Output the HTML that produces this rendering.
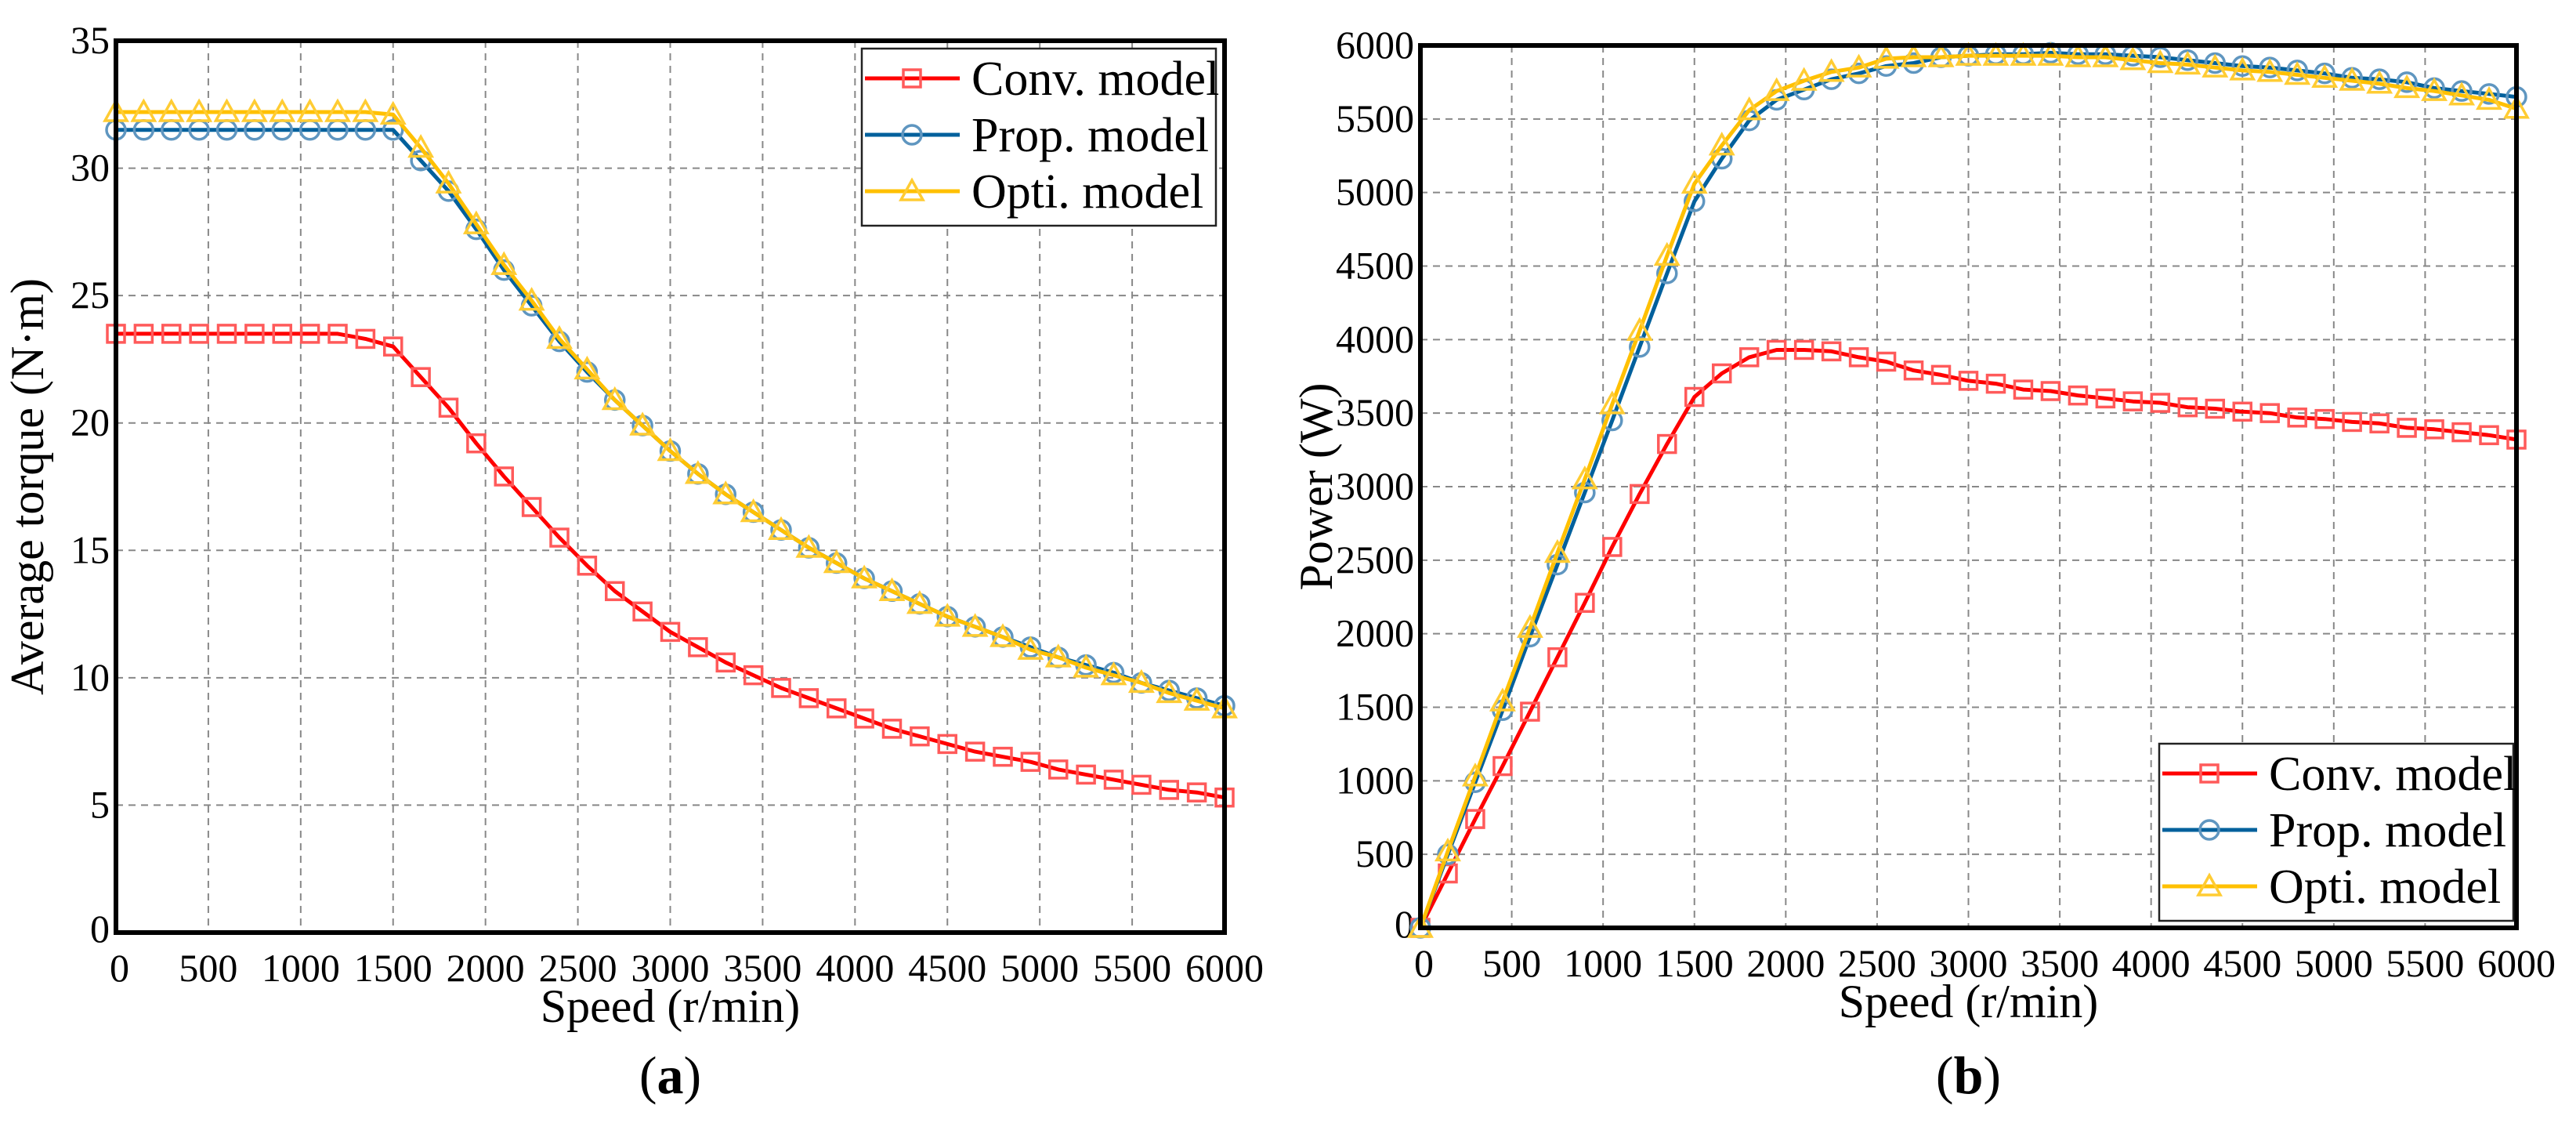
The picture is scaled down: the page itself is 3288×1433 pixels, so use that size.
<!DOCTYPE html>
<html><head><meta charset="utf-8"><style>
html,body{margin:0;padding:0;background:#fff;}
svg{display:block;}
svg text{font-family:"Liberation Serif","Times New Roman",serif;}
</style></head><body>
<svg id="root" width="3288" height="1433" viewBox="0 0 3288 1433" xmlns="http://www.w3.org/2000/svg" font-family="Liberation Serif, serif"></svg>
<script>
const speeds = [0,150,300,450,600,750,900,1050,1200,1350,1500,1650,1800,1950,2100,2250,2400,2550,2700,2850,3000,3150,3300,3450,3600,3750,3900,4050,4200,4350,4500,4650,4800,4950,5100,5250,5400,5550,5700,5850,6000];
const torqueConv = [23.5,23.5,23.5,23.5,23.5,23.5,23.5,23.5,23.5,23.3,23.0,21.8,20.6,19.2,17.9,16.7,15.5,14.4,13.4,12.6,11.8,11.2,10.6,10.1,9.6,9.2,8.8,8.4,8.0,7.7,7.4,7.1,6.9,6.7,6.4,6.2,6.0,5.8,5.6,5.5,5.3];
const torqueProp = [31.5,31.5,31.5,31.5,31.5,31.5,31.5,31.5,31.5,31.5,31.5,30.3,29.1,27.6,26.0,24.6,23.2,22.0,20.9,19.9,18.9,18.0,17.2,16.5,15.8,15.1,14.5,13.9,13.4,12.9,12.4,12.0,11.6,11.2,10.8,10.5,10.2,9.8,9.5,9.2,8.9];
const torqueOpti = [32.2,32.2,32.2,32.2,32.2,32.2,32.2,32.2,32.2,32.2,32.1,30.8,29.4,27.8,26.2,24.8,23.3,22.1,20.9,19.9,18.9,18.0,17.2,16.5,15.8,15.1,14.5,13.9,13.4,12.9,12.4,12.0,11.6,11.1,10.8,10.4,10.1,9.8,9.4,9.1,8.8];
const powerConv = [0,370,740,1100,1470,1840,2210,2590,2950,3290,3610,3770,3880,3930,3930,3920,3880,3850,3790,3760,3720,3700,3660,3650,3620,3600,3580,3570,3540,3530,3510,3500,3470,3460,3440,3430,3400,3390,3370,3350,3320];
const powerProp = [0,500,990,1480,1980,2470,2960,3450,3950,4450,4940,5230,5490,5630,5700,5770,5810,5860,5880,5920,5930,5940,5940,5950,5940,5940,5930,5920,5900,5880,5860,5850,5830,5810,5780,5770,5750,5710,5690,5670,5650];
const powerOpti = [0,520,1030,1540,2040,2550,3050,3560,4060,4570,5060,5320,5560,5690,5760,5820,5850,5910,5920,5920,5930,5930,5930,5930,5920,5920,5900,5880,5870,5850,5830,5820,5800,5780,5760,5740,5710,5690,5660,5630,5570];
const xTicks = [0,500,1000,1500,2000,2500,3000,3500,4000,4500,5000,5500,6000];
const torqueTicks = [0,5,10,15,20,25,30,35];
const powerTicks = [0,500,1000,1500,2000,2500,3000,3500,4000,4500,5000,5500,6000];
const seriesNames = ["Conv. model","Prop. model","Opti. model"];

const NS = "http://www.w3.org/2000/svg";
const FONT = '"Liberation Serif", "Times New Roman", serif';
const root = document.getElementById('root');
function el(tag, attrs, parent){const e=document.createElementNS(NS,tag);for(const k in attrs)e.setAttribute(k,attrs[k]);if(tag==='text')e.style.fontFamily=FONT;(parent||root).appendChild(e);return e;}

const styles = [
 {line:"#ff0000", mk:"#ff5a5a", type:"square"},
 {line:"#00609c", mk:"#5f96c0", type:"circle"},
 {line:"#ffc000", mk:"#ffcc33", type:"triangle"}
];

function marker(g, type, cx, cy, color){
  let m;
  if(type==="square") m=el('rect',{x:cx-11,y:cy-11,width:22,height:22,fill:"none",stroke:color,"stroke-width":3.5},g);
  else if(type==="circle") m=el('circle',{cx:cx,cy:cy,r:12,fill:"none",stroke:color,"stroke-width":3.5},g);
  else m=el('polygon',{points:`${cx},${cy-14} ${cx-14},${cy+11} ${cx+14},${cy+11}`,fill:"none",stroke:color,"stroke-width":3.5},g);
  
  
  return m;
}

function chart(cfg){
  const {L,R,T,B,ymax,yTicks,series,yTitle,yTitleX,letter,legendX,legendY,name} = cfg;
  const g = el('g',{});
  
  
  const xs = v => L + (v/6000)*(R-L);
  const ys = v => B - (v/ymax)*(B-T);
  const grid = el('g',{},g);
  
  
  xTicks.forEach(v=>{ if(v>0&&v<6000) el('line',{x1:xs(v),x2:xs(v),y1:T,y2:B,stroke:"#888","stroke-width":2,"stroke-dasharray":"9,7"},grid);});
  yTicks.forEach(v=>{ if(v>0&&v<ymax) el('line',{x1:L,x2:R,y1:ys(v),y2:ys(v),stroke:"#888","stroke-width":2,"stroke-dasharray":"9,7"},grid);});
  xTicks.forEach(v=>{const t=el('text',{x:xs(v),y:B+62,"font-size":50,"text-anchor":v===0?"start":"middle"},g); if(v===0)t.setAttribute('x',xs(v)-8); t.textContent=v;
     });
  yTicks.forEach(v=>{const t=el('text',{x:L-8,y:ys(v)+(v===0?12:16),"font-size":50,"text-anchor":"end"},g); t.textContent=v;
     });
  const xt=el('text',{x:(L+R)/2,y:B+114,"font-size":60,"text-anchor":"middle"},g); xt.textContent="Speed (r/min)";
   
  const yt=el('text',{x:yTitleX,y:(T+B)/2,"font-size":60,"text-anchor":"middle",transform:`rotate(-90 ${yTitleX} ${(T+B)/2})`},g); yt.textContent=yTitle;
   
  const lt=el('text',{x:(L+R)/2,y:1395,"font-size":68,"text-anchor":"middle"},g);
  lt.innerHTML='(<tspan font-weight="bold">'+letter+'</tspan>)';
   
  series.forEach((vals,i)=>{
    const sg=el('g',{},g);
    
    
    const pts = vals.map((v,j)=>xs(speeds[j]).toFixed(1)+","+ys(v).toFixed(1)).join(" ");
    const pl=el('polyline',{points:pts,fill:"none",stroke:styles[i].line,"stroke-width":5,"stroke-linejoin":"round"},sg);
     
    vals.forEach((v,j)=>marker(sg,styles[i].type,xs(speeds[j]),ys(v),styles[i].mk));
  });
  const fr=el('rect',{x:L,y:T,width:R-L,height:B-T,fill:"none",stroke:"#000","stroke-width":6},g);
   
  const lg=el('g',{},g);
   
  el('rect',{x:legendX,y:legendY,width:452,height:226,fill:"#fff",stroke:"#222","stroke-width":2.5},lg);
  seriesNames.forEach((n,i)=>{
    const cy=legendY+38+i*72;
    const e=el('g',{},lg);
     
    el('line',{x1:legendX+4,x2:legendX+125,y1:cy,y2:cy,stroke:styles[i].line,"stroke-width":5},e);
    marker(e,styles[i].type,legendX+64,cy,styles[i].mk);
    const t=el('text',{x:legendX+140,y:cy+21,"font-size":62},e); t.textContent=n;
  });
}

chart({name:"torque-chart",L:148,R:1563,T:52,B:1190,ymax:35,yTicks:torqueTicks,series:[torqueConv,torqueProp,torqueOpti],yTitle:"Average torque (N·m)",yTitleX:55,letter:"a",legendX:1100,legendY:62});
chart({name:"power-chart",L:1813,R:3212,T:58,B:1184,ymax:6000,yTicks:powerTicks,series:[powerConv,powerProp,powerOpti],yTitle:"Power (W)",yTitleX:1700,letter:"b",legendX:2756,legendY:949});
</script>
</body></html>
